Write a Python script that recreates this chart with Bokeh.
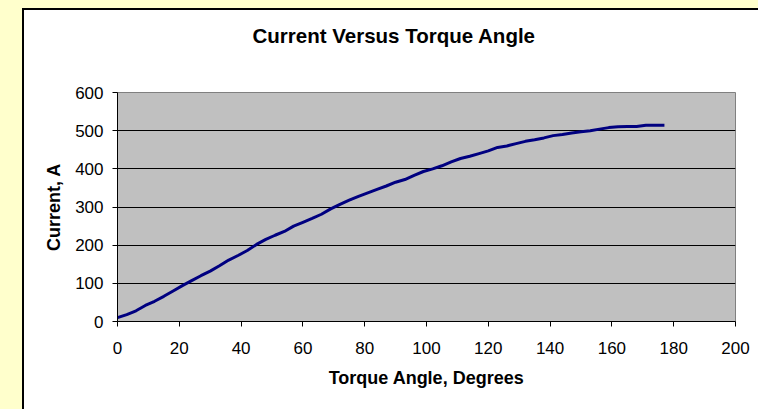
from bokeh.plotting import figure
from bokeh.models import Range1d, Spacer, FixedTicker, Title
from bokeh.layouts import row, column
from bokeh.embed import file_html
from bokeh.resources import INLINE

# Torque angle (degrees) and current (A)
angle = [0, 3, 6, 9, 12, 15, 18, 21, 24, 27, 30, 33, 36, 39, 42, 45, 48, 51, 54, 57,
         60, 63, 66, 69, 72, 75, 78, 81, 84, 87, 90, 93, 96, 99, 102, 105, 108, 111,
         114, 117, 120, 123, 126, 129, 132, 135, 138, 141, 144, 147, 150, 153, 156,
         159, 162, 165, 168, 171, 174, 177]
current = [10, 18, 28, 42, 53, 66, 80, 94, 107, 120, 132, 146, 161, 173, 186, 202,
           215, 226, 236, 250, 260, 270, 281, 295, 307, 318, 328, 337, 346, 355, 365,
           372, 383, 393, 400, 408, 418, 427, 433, 440, 447, 456, 460, 466, 472, 476,
           481, 487, 490, 494, 497, 500, 504, 508, 510, 511, 511, 514, 514, 514]

x_ticks = [0, 20, 40, 60, 80, 100, 120, 140, 160, 180, 200]
y_ticks = [0, 100, 200, 300, 400, 500, 600]

title_text = "Current Versus Torque Angle"
x_label = "Torque Angle, Degrees"
y_label = "Current, A"

FONT = "Liberation Sans"
YELLOW = "#FFFFCC"

p = figure(width=734, height=399, output_backend="svg", toolbar_location=None,
           x_range=Range1d(x_ticks[0], x_ticks[-1]), y_range=Range1d(y_ticks[0], y_ticks[-1]),
           min_border_left=93, min_border_right=23, min_border_top=82, min_border_bottom=88,
           background_fill_color="#C0C0C0", border_fill_color="#FFFFFF",
           outline_line_color="#808080", outline_line_width=1)
p.title.visible = False

p.line(angle, current, line_color="#000080", line_width=3)

# blank spacer panel between the frame and the title, then the title itself
p.add_layout(Title(text=" ", text_font_size="1px", standoff=42), "above")
p.add_layout(Title(text=title_text, align="left", offset=135, standoff=2,
                   text_font=FONT, text_font_size="20.5px", text_font_style="bold",
                   text_color="#000000"), "above")

p.xaxis.ticker = FixedTicker(ticks=x_ticks)
p.yaxis.ticker = FixedTicker(ticks=y_ticks)
p.xaxis.axis_label = x_label
p.yaxis.axis_label = y_label
for ax in (p.xaxis, p.yaxis):
    ax.axis_line_color = "#000000"
    ax.major_tick_line_color = "#000000"
    ax.major_tick_in = 0
    ax.major_tick_out = 5
    ax.minor_tick_line_color = None
    ax.major_label_text_font = FONT
    ax.major_label_text_font_size = "17px"
    ax.major_label_text_color = "#000000"
    ax.axis_label_text_font = FONT
    ax.axis_label_text_font_size = "18px"
    ax.axis_label_text_font_style = "bold"
    ax.axis_label_text_color = "#000000"
p.xaxis.major_label_standoff = 15
p.xaxis.axis_label_standoff = 11
p.yaxis.major_label_standoff = 9
p.yaxis.axis_label_standoff = 8

p.xgrid.grid_line_color = None
p.ygrid.grid_line_color = "#000000"
p.ygrid.grid_line_width = 1

layout = column(
    Spacer(width=758, height=8, styles={"background-color": YELLOW}),
    row(
        Spacer(width=22, height=401, styles={"background-color": YELLOW}),
        column(
            Spacer(width=736, height=2, styles={"background-color": "#000000"}),
            row(Spacer(width=2, height=399, styles={"background-color": "#000000"}), p),
        ),
    ),
)

html = file_html(layout, INLINE)
open("out.html", "w").write(html)
